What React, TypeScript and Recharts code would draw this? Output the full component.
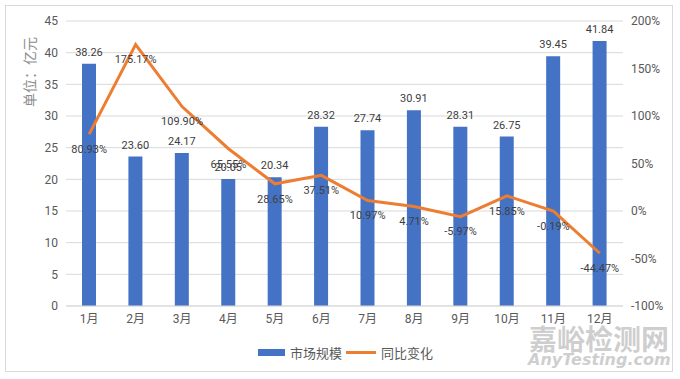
import React from 'react';
import {
  ComposedChart, Bar, Line, XAxis, YAxis, CartesianGrid, Legend, LabelList, Label,
} from 'recharts';

const months = ['1月', '2月', '3月', '4月', '5月', '6月', '7月', '8月', '9月', '10月', '11月', '12月'];
const marketSize = [38.26, 23.60, 24.17, 20.05, 20.34, 28.32, 27.74, 30.91, 28.31, 26.75, 39.45, 41.84];
const yoyChange = [80.93, 175.17, 109.90, 65.55, 28.65, 37.51, 10.97, 4.71, -5.97, 15.85, -0.19, -44.47];
const leftTicks = [0, 5, 10, 15, 20, 25, 30, 35, 40, 45];
const rightTicks = [-100, -50, 0, 50, 100, 150, 200];

const data = months.map((m, i) => ({ month: m, size: marketSize[i], yoy: yoyChange[i] }));

const FONT = 'Roboto, "Noto Sans CJK SC", sans-serif';
const TEXT = '#595959';

const LegendContent = () => (
  <div style={{ height: 20, display: 'flex', justifyContent: 'center', alignItems: 'center', fontFamily: FONT, fontSize: 13, color: TEXT, paddingLeft: 8 }}>
    <span style={{ display: 'inline-block', width: 27, height: 7, background: '#4472C4', marginRight: 5 }} />
    <span style={{ marginRight: 4 }}>市场规模</span>
    <span style={{ display: 'inline-block', width: 30, height: 3, background: '#ED7D31', marginRight: 5 }} />
    <span>同比变化</span>
  </div>
);

export default function App() {
  return (
    <div style={{ position: 'absolute', left: 0, top: 0, width: 680, height: 379, background: '#fff' }}>
      <div style={{ position: 'absolute', left: 5, top: 5, width: 666, height: 365, border: '1px solid #d9d9d9' }} />
      <div style={{ position: 'absolute', left: 0, top: 0 }}>
        <ComposedChart width={680} height={379} data={data} margin={{ top: 21, right: 7, left: 10, bottom: 17 }}>
          <CartesianGrid vertical={false} stroke="#d9d9d9" yAxisId="left" />
          <XAxis
            dataKey="month"
            height={36}
            tickLine={false}
            axisLine={{ stroke: '#d9d9d9' }}
            tick={{ fill: TEXT, fontSize: 12, fontFamily: FONT }}
          />
          <YAxis
            yAxisId="left"
            width={56}
            domain={[0, 45]}
            ticks={leftTicks}
            interval={0}
            tickLine={false}
            axisLine={false}
            tick={{ fill: TEXT, fontSize: 12, fontFamily: FONT }}
          >
            <Label
              content={() => (
                <text x={30} y={72} transform="rotate(-90 30 72)" textAnchor="middle" dominantBaseline="central" fill="#8c8c8c" fontSize={14} fontFamily={FONT}>
                  单位：亿元
                </text>
              )}
            />
          </YAxis>
          <YAxis
            yAxisId="right"
            orientation="right"
            width={50}
            domain={[-100, 200]}
            ticks={rightTicks}
            interval={0}
            tickLine={false}
            axisLine={false}
            tickFormatter={(v: number) => `${v}%`}
            tick={{ fill: TEXT, fontSize: 12, fontFamily: FONT, textAnchor: 'start' }}
          />
          <Legend verticalAlign="bottom" align="center" content={LegendContent} />
          <Bar yAxisId="left" dataKey="size" fill="#4472C4" barSize={14} isAnimationActive={false}>
            <LabelList
              dataKey="size"
              position="top"
              offset={8}
              formatter={(v: number) => v.toFixed(2)}
              style={{ fill: '#404040', fontSize: 11, fontFamily: FONT }}
            />
          </Bar>
          <Line
            yAxisId="right"
            dataKey="yoy"
            stroke="#ED7D31"
            strokeWidth={3}
            dot={false}
            activeDot={false}
            isAnimationActive={false}
          >
            <LabelList
              dataKey="yoy"
              position="bottom"
              offset={11}
              formatter={(v: number) => `${v.toFixed(2)}%`}
              style={{ fill: '#404040', fontSize: 11, fontFamily: FONT }}
            />
          </Line>
        </ComposedChart>
      </div>
      <div style={{ position: 'absolute', left: 528, top: 322, width: 142, textAlign: 'center', fontFamily: '"Noto Sans CJK SC", sans-serif', fontWeight: 700, fontSize: 28, lineHeight: '32px', color: 'rgba(190,190,190,0.75)', letterSpacing: 0 }}>
        嘉峪检测网
      </div>
      <div style={{ position: 'absolute', left: 528, top: 351, width: 142, textAlign: 'center', fontFamily: '"DejaVu Sans", sans-serif', fontStyle: 'italic', fontWeight: 700, fontSize: 16, lineHeight: '18px', color: 'rgba(190,190,190,0.75)' }}>
        AnyTesting.com
      </div>
    </div>
  );
}
